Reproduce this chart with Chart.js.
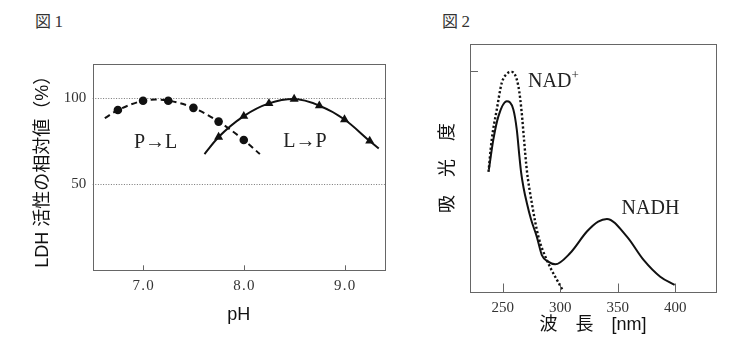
<!DOCTYPE html>
<html><head><meta charset="utf-8">
<script src="https://cdn.jsdelivr.net/npm/chart.js@4"></script>
<style>
html,body{margin:0;padding:0;background:#fff;}
#wrap{position:relative;width:736px;height:357px;overflow:hidden;background:#fff}
canvas{position:absolute;top:0}
#c1{left:0} #c2{left:390px}
.fig{position:absolute;top:10px;line-height:20px;font-size:16px;color:#333;font-family:"Noto Sans CJK JP"}
.fig span{font-family:"Liberation Serif";font-size:17px}
</style></head>
<body><div id="wrap">
<div class="fig" style="left:35px">図 <span>1</span></div>
<div class="fig" style="left:442px">図 <span>2</span></div>
<canvas id="c1" width="390" height="357" style="width:390px;height:357px"></canvas>
<canvas id="c2" width="346" height="357" style="width:346px;height:357px"></canvas>
</div>
<script>
// ---- Figure 1 data ----
const phTicks = [7.0, 8.0, 9.0];
const activityTicks = [50, 100];
const pToL_pH  = [6.75, 7.0, 7.25, 7.5, 7.75, 8.0];
const pToL_act = [93.2, 98.6, 98.6, 94.5, 86.5, 75.8];
const pToLCurve_pH  = [6.62, 6.75, 7.0, 7.12, 7.25, 7.5, 7.75, 8.0, 8.16];
const pToLCurve_act = [88.5, 93.2, 98.6, 99.3, 98.8, 94.5, 86.5, 75.8, 67.6];
const lToP_pH  = [7.75, 8.0, 8.25, 8.5, 8.75, 9.0, 9.25];
const lToP_act = [77.5, 89.7, 97.1, 99.6, 95.8, 87.7, 75.2];
const lToPCurve_pH  = [7.61, 7.75, 8.0, 8.25, 8.5, 8.75, 9.0, 9.25, 9.34];
const lToPCurve_act = [67.6, 77.5, 89.7, 97.1, 99.6, 95.8, 87.7, 75.2, 70.8];

// ---- Figure 2 data ----
const wlTicks = [250, 300, 350, 400];
const absTicks = [1.0];
const nadhWl  = [237.9, 241.8, 246.2, 253.5, 259.2, 262.2, 264.5, 265.9, 268.1, 270.9, 274.7, 279.6, 284.0, 289.5, 295.6, 308.7, 323.2, 333.0, 340.6, 358.0, 372.5, 387.0, 399.5];
const nadhAbs = [0.552, 0.688, 0.793, 0.861, 0.824, 0.733, 0.611, 0.543, 0.471, 0.403, 0.326, 0.250, 0.167, 0.137, 0.125, 0.176, 0.273, 0.318, 0.330, 0.250, 0.145, 0.069, 0.032];
const nadWl  = [237.6, 240.4, 244.8, 249.1, 253.5, 257.8, 263.6, 266.5, 268.5, 270.9, 275.3, 281.0, 288.3, 302.3];
const nadAbs = [0.543, 0.688, 0.824, 0.944, 0.985, 0.994, 0.929, 0.809, 0.688, 0.552, 0.401, 0.250, 0.145, 0.006];

const zip = (xs, ys) => xs.map((x, i) => ({x, y: ys[i]}));
const serif = "'Liberation Serif', 'Noto Sans CJK JP', serif";
const sans = "'Liberation Sans', 'Noto Sans CJK JP', sans-serif";
const ink = '#111';

const frame = {
  id: 'frame',
  beforeDatasetsDraw(chart, args, o) {
    const {ctx, chartArea: a, scales: {y}} = chart;
    ctx.save();
    ctx.strokeStyle = '#777'; ctx.lineWidth = 1; ctx.setLineDash([1, 1.6]);
    (o.gridY || []).forEach(v => {
      const py = Math.round(y.getPixelForValue(v)) + 0.5;
      ctx.beginPath(); ctx.moveTo(a.left, py); ctx.lineTo(a.right, py); ctx.stroke();
    });
    ctx.restore();
  },
  afterDraw(chart, args, o) {
    const {ctx, chartArea: a, scales: {x, y}} = chart;
    ctx.save();
    ctx.strokeStyle = '#666'; ctx.lineWidth = 1; ctx.setLineDash([]);
    ctx.strokeRect(Math.round(a.left) + 0.5, Math.round(a.top) + 0.5, Math.round(a.right - a.left), Math.round(a.bottom - a.top));
    x.ticks.forEach(t => {
      const px = Math.round(x.getPixelForValue(t.value)) + 0.5;
      ctx.beginPath(); ctx.moveTo(px, a.bottom); ctx.lineTo(px, a.bottom - o.xTickLen); ctx.stroke();
    });
    (o.yTicks || []).forEach(v => {
      const py = Math.round(y.getPixelForValue(v)) + 0.5;
      ctx.beginPath(); ctx.moveTo(a.left, py); ctx.lineTo(a.left + o.yTickLen, py); ctx.stroke();
    });
    ctx.fillStyle = '#222';
    ctx.textBaseline = 'middle';
    (o.labels || []).forEach(l => {
      ctx.font = l.font;
      ctx.textAlign = l.align || 'center';
      const px = x.getPixelForValue(l.x), py = y.getPixelForValue(l.y);
      ctx.fillText(l.text, px, py);
      if (l.sup) {
        const w = ctx.measureText(l.text).width;
        ctx.font = l.supFont;
        ctx.textAlign = 'left';
        ctx.fillText(l.sup, px + w, py - 6);
      }
    });
    ctx.restore();
  }
};

const fixTicks = arr => s => { s.ticks = arr.map(v => ({value: v})); };
const noGrid = {display: false, drawTicks: false};

new Chart(document.getElementById('c1'), {
  type: 'scatter',
  data: {
    datasets: [
      {data: zip(pToLCurve_pH, pToLCurve_act), showLine: true, borderColor: ink, borderWidth: 2, borderDash: [6, 4], pointRadius: 0, cubicInterpolationMode: 'monotone'},
      {data: zip(pToL_pH, pToL_act), showLine: false, pointStyle: 'circle', pointRadius: 4.3, backgroundColor: ink, borderColor: ink, borderWidth: 0},
      {data: zip(lToPCurve_pH, lToPCurve_act), showLine: true, borderColor: ink, borderWidth: 2, pointRadius: 0, cubicInterpolationMode: 'monotone'},
      {data: zip(lToP_pH, lToP_act), showLine: false, pointStyle: 'triangle', pointRadius: 5.2, backgroundColor: ink, borderColor: ink, borderWidth: 0}
    ]
  },
  options: {
    responsive: false, animation: false, devicePixelRatio: 1,
    layout: {padding: {top: 64, right: 3.8, left: 0, bottom: 0}},
    plugins: {
      legend: {display: false}, tooltip: {enabled: false},
      frame: {
        gridY: activityTicks, xTickLen: 5,
        labels: [
          {text: 'P→L', x: 7.125, y: 74.0, font: "20px " + serif},
          {text: 'L→P', x: 8.607, y: 74.6, font: "20px " + serif}
        ]
      }
    },
    scales: {
      x: {
        type: 'linear', min: 6.5, max: 9.4,
        afterBuildTicks: fixTicks(phTicks),
        afterFit: s => { s.height = 86.7; },
        grid: noGrid, border: {display: false},
        ticks: {font: {family: serif, size: 15}, color: '#333', padding: 7, maxRotation: 0, autoSkip: false,
                callback: v => Number(v).toFixed(1).replace('.', '\u200A.\u200A')},
        title: {display: true, text: 'pH', font: {family: sans, size: 18}, color: '#111', padding: {top: 0, bottom: 31.2}}
      },
      y: {
        type: 'linear', min: 0, max: 120,
        afterBuildTicks: fixTicks(activityTicks),
        afterFit: s => { s.width = 92.7; },
        grid: noGrid, border: {display: false},
        ticks: {font: {family: serif, size: 15}, color: '#333', padding: 6.5},
        title: {display: true, text: 'LDH 活性の相対値（%）', font: {family: sans, size: 18}, color: '#111', padding: {top: 32.2, bottom: 0}}
      }
    }
  },
  plugins: [frame]
});

new Chart(document.getElementById('c2'), {
  type: 'scatter',
  data: {
    datasets: [
      {data: zip(nadWl, nadAbs), showLine: true, borderColor: ink, borderWidth: 2.4, borderDash: [2.2, 2.2], pointRadius: 0, cubicInterpolationMode: 'monotone'},
      {data: zip(nadhWl, nadhAbs), showLine: true, borderColor: ink, borderWidth: 2, pointRadius: 0, cubicInterpolationMode: 'monotone'}
    ]
  },
  options: {
    responsive: false, animation: false, devicePixelRatio: 1,
    layout: {padding: {top: 44, right: 20, left: 0, bottom: 0}},
    plugins: {
      legend: {display: false}, tooltip: {enabled: false},
      frame: {
        xTickLen: 8.5, yTicks: absTicks, yTickLen: 8,
        labels: [
          {text: 'NAD', sup: '+', x: 272, y: 0.95, align: 'left', font: "20px " + serif, supFont: "13px " + serif},
          {text: 'NADH', x: 378.5, y: 0.375, font: "20px " + serif}
        ]
      }
    },
    scales: {
      x: {
        type: 'linear', min: 221.5, max: 435.5,
        afterBuildTicks: fixTicks(wlTicks),
        afterFit: s => { s.height = 65; },
        grid: noGrid, border: {display: false},
        ticks: {font: {family: serif, size: 15}, color: '#333', padding: 7, maxRotation: 0, autoSkip: false},
        title: {display: true, text: '波　長　[nm]', font: {family: sans, size: 18}, color: '#111', padding: {top: 0, bottom: 21.2}}
      },
      y: {
        type: 'linear', min: 0, max: 1.12,
        afterBuildTicks: fixTicks(absTicks),
        afterFit: s => { s.width = 80; },
        grid: noGrid, border: {display: false},
        ticks: {display: false},
        title: {display: true, text: '吸　光　度', font: {family: sans, size: 18}, color: '#111', padding: {top: 47.2, bottom: 0}}
      }
    }
  },
  plugins: [frame]
});
</script>
</body></html>
